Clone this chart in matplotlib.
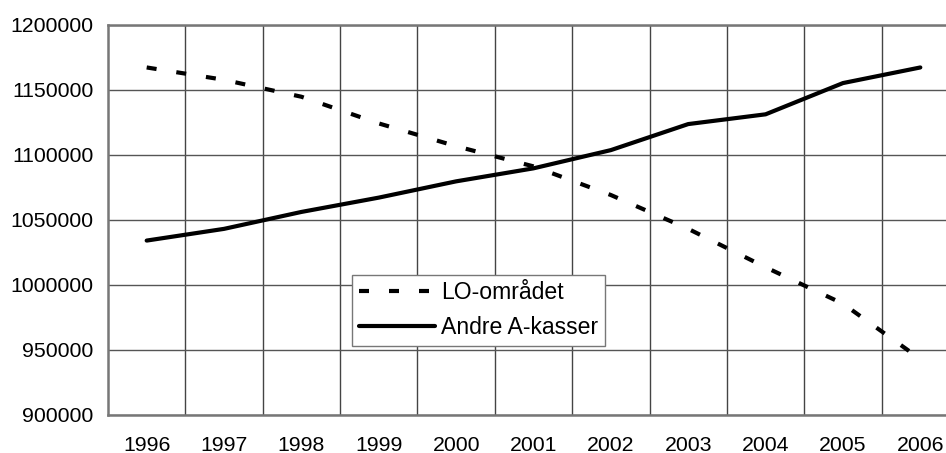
import numpy as np
import matplotlib.pyplot as plt

years = ["1996", "1997", "1998", "1999", "2000", "2001",
         "2002", "2003", "2004", "2005", "2006"]
lo_omraadet = [1167000, 1157500, 1144500, 1124000, 1106500, 1091000,
               1069000, 1043000, 1013500, 985500, 943000]
andre_akasser = [1034000, 1043000, 1056000, 1067000, 1079500, 1089500,
                 1103500, 1123500, 1131000, 1155000, 1167000]
y_ticks = [900000, 950000, 1000000, 1050000, 1100000, 1150000, 1200000]

plt.rcParams['font.family'] = ['Liberation Sans', 'DejaVu Sans']

fig = plt.figure(figsize=(9.46, 4.53), dpi=100)
# the plot area runs past the right edge of the picture, as in the original
ax = fig.add_axes([108 / 946, 38 / 453, 851 / 946, 390.5 / 453])

x = np.arange(len(years))
ax.plot(x, lo_omraadet, color="black", linewidth=3.0, linestyle=(0, (2.4, 4.8)),
        dash_capstyle="butt", label="LO-området")
ax.plot(x, andre_akasser, color="black", linewidth=3.0,
        solid_capstyle="round", label="Andre A-kasser")

ax.set_xlim(-0.5, len(years) - 0.5)
ax.set_ylim(y_ticks[0], y_ticks[-1])
ax.set_xticks(x)
ax.set_xticklabels(years)
ax.set_xticks(np.arange(0.5, len(years) - 0.5), minor=True)
ax.set_yticks(y_ticks)
ax.set_yticklabels([str(v) for v in y_ticks])

ax.tick_params(axis="both", which="both", length=0, labelsize=15.3, pad=10.5)
ax.tick_params(axis="x", pad=15)
ax.grid(True, axis="y", which="major", color="#555555", linewidth=1.0)
ax.grid(True, axis="x", which="minor", color="#444444", linewidth=1.0)
ax.set_axisbelow(True)

for side in ["left", "bottom", "top", "right"]:
    ax.spines[side].set_color("#777777")
    ax.spines[side].set_linewidth(1.8)

leg = ax.legend(loc="lower left", bbox_to_anchor=(0.287, 0.177), fontsize=16.6,
                frameon=True, fancybox=False, borderaxespad=0, borderpad=0.3,
                handlelength=3.3, handletextpad=0.25, labelspacing=0.5)
leg.get_frame().set_edgecolor("#777777")
leg.get_frame().set_linewidth(1.0)
leg.get_frame().set_alpha(1.0)

fig.savefig("out.png", dpi=100)
